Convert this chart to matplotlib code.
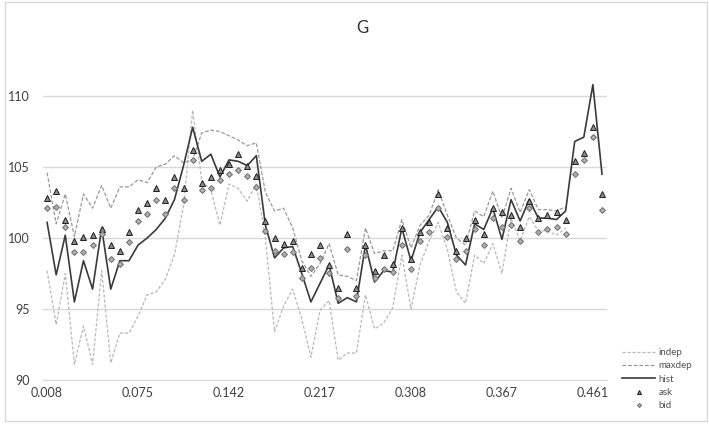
import numpy as np
import matplotlib.pyplot as plt
from matplotlib.patches import Rectangle

plt.rcParams['font.family'] = ['Lato', 'DejaVu Sans']

# category labels shown every 10th point
tick_labels = ['0.008', '0.075', '0.142', '0.217', '0.308', '0.367', '0.461']

hist = [101.1, 97.4, 100.2, 95.5, 98.4, 96.4, 100.7, 96.4, 98.4, 98.4,
        99.5, 100.0, 100.6, 101.4, 102.7, 105.1, 107.8, 105.4, 105.9, 104.3,
        105.5, 105.4, 105.1, 105.8, 100.9, 98.6, 99.3, 99.4, 97.5, 95.5,
        96.8, 98.1, 95.4, 95.8, 95.5, 99.5, 96.9, 97.7, 97.6, 100.7,
        98.4, 100.4, 101.3, 102.2, 101.1, 98.8, 98.1, 101.0, 100.6, 102.1,
        99.9, 102.7, 101.2, 102.7, 101.4, 101.4, 101.3, 101.9, 106.8, 107.1,
        110.8, 104.5]

ask = [102.8, 103.3, 101.3, 99.8, 100.1, 100.2, 100.6, 99.5, 99.1, 100.4,
       102.0, 102.5, 103.5, 102.7, 104.3, 103.5, 106.2, 103.9, 104.3, 104.8,
       105.2, 105.9, 105.1, 104.4, 101.2, 100.0, 99.6, 99.8, 97.9, 98.9,
       99.5, 98.1, 96.5, 100.3, 96.5, 99.5, 97.7, 98.8, 98.2, 100.7,
       98.5, 100.4, 101.1, 103.1, 100.7, 99.1, 100.0, 101.3, 100.3, 102.1,
       101.8, 101.6, 100.8, 102.6, 101.4, 101.6, 101.8, 101.3, 105.4, 106.0,
       107.8, 103.1]

bid = [102.1, 102.2, 100.8, 99.0, 99.0, 99.5, 100.3, 98.5, 98.2, 99.7,
       101.2, 101.7, 102.7, 101.7, 103.5, 102.7, 105.5, 103.4, 103.5, 104.1,
       104.5, 104.8, 104.4, 103.6, 100.5, 99.1, 98.9, 99.0, 97.2, 97.9,
       98.6, 97.5, 95.8, 99.2, 95.9, 98.8, 97.2, 97.8, 97.6, 99.5,
       97.8, 99.8, 100.4, 102.1, 100.1, 98.5, 99.1, 100.6, 99.5, 101.4,
       100.8, 100.9, 99.8, 102.1, 100.4, 100.6, 100.8, 100.3, 104.5, 105.5,
       107.1, 102.0]

# bounds only run to the 58th point
indep = [97.7, 93.9, 97.5, 91.1, 93.8, 91.1, 97.7, 91.2, 93.3, 93.3,
         94.5, 96.0, 96.2, 97.1, 98.8, 102.3, 109.0, 104.0, 103.4, 100.9,
         103.8, 103.5, 102.6, 103.8, 100.0, 93.4, 95.2, 96.4, 94.3, 91.6,
         94.9, 95.6, 91.4, 91.9, 91.9, 96.0, 93.6, 94.0, 95.1, 98.8,
         95.0, 98.1, 99.8, 101.1, 99.2, 96.2, 95.4, 98.8, 98.2, 99.6,
         97.5, 101.4, 99.8, 101.5, 100.5, 100.5, 100.2, 100.7]

maxdep = [104.6, 101.0, 103.1, 100.1, 103.1, 102.1, 103.7, 102.1, 103.6, 103.6,
          104.1, 103.9, 105.0, 105.2, 105.8, 105.3, 105.5, 107.4, 107.6, 107.5,
          107.2, 106.9, 106.5, 106.7, 103.2, 101.9, 102.1, 100.7, 98.4, 97.3,
          98.2, 99.6, 97.4, 97.3, 97.0, 100.7, 98.9, 99.1, 99.1, 101.3,
          99.3, 100.9, 101.6, 103.4, 101.6, 100.0, 99.5, 101.9, 101.5, 103.3,
          101.4, 103.5, 101.8, 103.4, 102.0, 102.0, 101.9, 102.2]

x = np.arange(len(hist))

fig = plt.figure(figsize=(7.09, 4.24), dpi=100)
ax = fig.add_axes([0.060, 0.1038, 0.7955, 0.720])

ax.plot(x[:len(indep)], indep, color='#b8b8b8', lw=0.9, ls=(0, (2.5, 1.5)), label='indep')
ax.plot(x[:len(maxdep)], maxdep, color='#999999', lw=0.9, ls=(0, (3, 1.5)), label='maxdep')
ax.plot(x, hist, color='#3a3a3a', lw=1.2, label='hist')
ax.plot(x, ask, ls='none', marker='^', ms=4.2, mfc='#8a8a8a', mec='#1e1e1e', mew=0.7, label='ask')
ax.plot(x, bid, ls='none', marker='D', ms=3.0, mfc='#b0b0b0', mec='#6e6e6e', mew=0.7, label='bid')

ax.set_xlim(-0.5, len(hist) - 0.5)
ax.set_ylim(90, 111.5)
ax.set_yticks([90, 95, 100, 105, 110])
ax.set_xticks(x[::10])
ax.set_xticklabels(tick_labels)
ax.grid(axis='y', color='#d9d9d9', lw=1)
ax.set_axisbelow(True)
for side in ['top', 'right', 'left']:
    ax.spines[side].set_visible(False)
ax.spines['bottom'].set_color('#d9d9d9')
ax.tick_params(axis='both', length=0, labelsize=9, colors='#404040')
ax.tick_params(axis='y', pad=9)
ax.tick_params(axis='x', pad=5)

fig.text(0.511, 0.935, 'G', ha='center', va='center', fontsize=12, color='#303030')

ax.legend(loc='upper left', bbox_to_anchor=(622 / 709, 1 - 348 / 424),
          bbox_transform=fig.transFigure, frameon=False, fontsize=7,
          handlelength=3.4, handletextpad=0.35, labelspacing=0.45,
          borderpad=0, borderaxespad=0, labelcolor='#505050', markerscale=0.7)

fig.patches.append(Rectangle((5 / 709, 3 / 424), 702 / 709, 419 / 424,
                             transform=fig.transFigure, fill=False,
                             edgecolor='#d9d9d9', lw=1))

fig.savefig('out.png', dpi=100)
